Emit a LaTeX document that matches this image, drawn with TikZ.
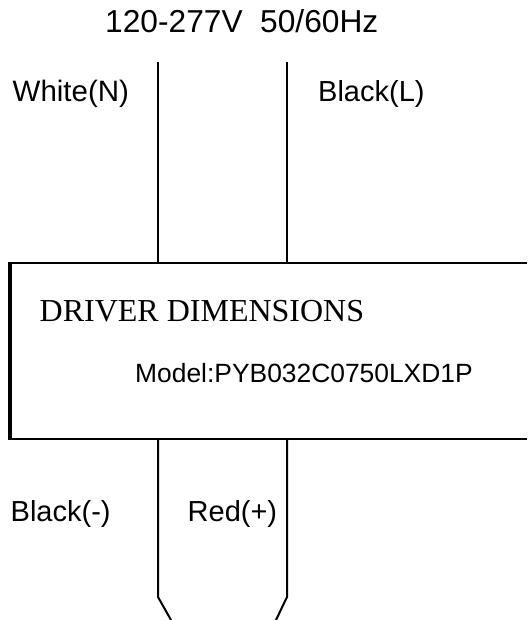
\documentclass[tikz,border=0pt]{standalone}
\usepackage{fontspec}
\setmainfont{Liberation Sans}
\newfontfamily\serifface{Liberation Serif}
\begin{document}
\begin{tikzpicture}[x=1pt,y=-1pt]
        \tikzstyle{every node}+=[inner sep=0pt,anchor=base west]
        \tikzstyle{wire}=[black,line width=2pt]
        \useasboundingbox (0,0) rectangle (527,620);
        % driver box
        \coordinate (tl) at (9,263);
        \coordinate (tr) at (527,263);
        \coordinate (bl) at (9,439);
        \coordinate (br) at (527,439);
        \draw [wire] (tl) -- (tr);
        \draw [wire] (bl) -- (br);
        \draw [black,line width=4.4pt] (9.8,262) -- (9.8,440);
        % mains side
        \coordinate (n1) at (158,62);
        \coordinate (n2) at (158,263);
        \coordinate (l1) at (287,62);
        \coordinate (l2) at (287,263);
        \draw [wire] (n1) -- (n2);
        \draw [wire] (l1) -- (l2);
        % output side
        \coordinate (m1) at (158,439);
        \coordinate (m2) at (158,597);
        \coordinate (m3) at (171,620);
        \coordinate (p1) at (287,439);
        \coordinate (p2) at (287,597);
        \coordinate (p3) at (276,620);
        \draw [wire] (m1) -- (m2) -- (m3);
        \draw [wire] (p1) -- (p2) -- (p3);
        % labels
        \node (supply) at (105,33) {\fontsize{31.7}{36}\selectfont 120-277V\ \ 50/60Hz};
        \node (white) at (12.5,101.5) {\fontsize{29.5}{36}\selectfont White(N)};
        \node (black) at (318,101.5) {\fontsize{29}{36}\selectfont Black(L)};
        \node (title) at (39.5,321.5) {\fontsize{32}{36}\selectfont\serifface DRIVER DIMENSIONS};
        \node (model) at (135,382.5) {\fontsize{26.4}{32}\selectfont Model:PYB032C0750LXD1P};
        \node (neg) at (10.5,521.5) {\fontsize{29}{34}\selectfont Black(-)};
        \node (pos) at (187.5,521.5) {\fontsize{29}{34}\selectfont Red(+)};
\end{tikzpicture}
\end{document}
